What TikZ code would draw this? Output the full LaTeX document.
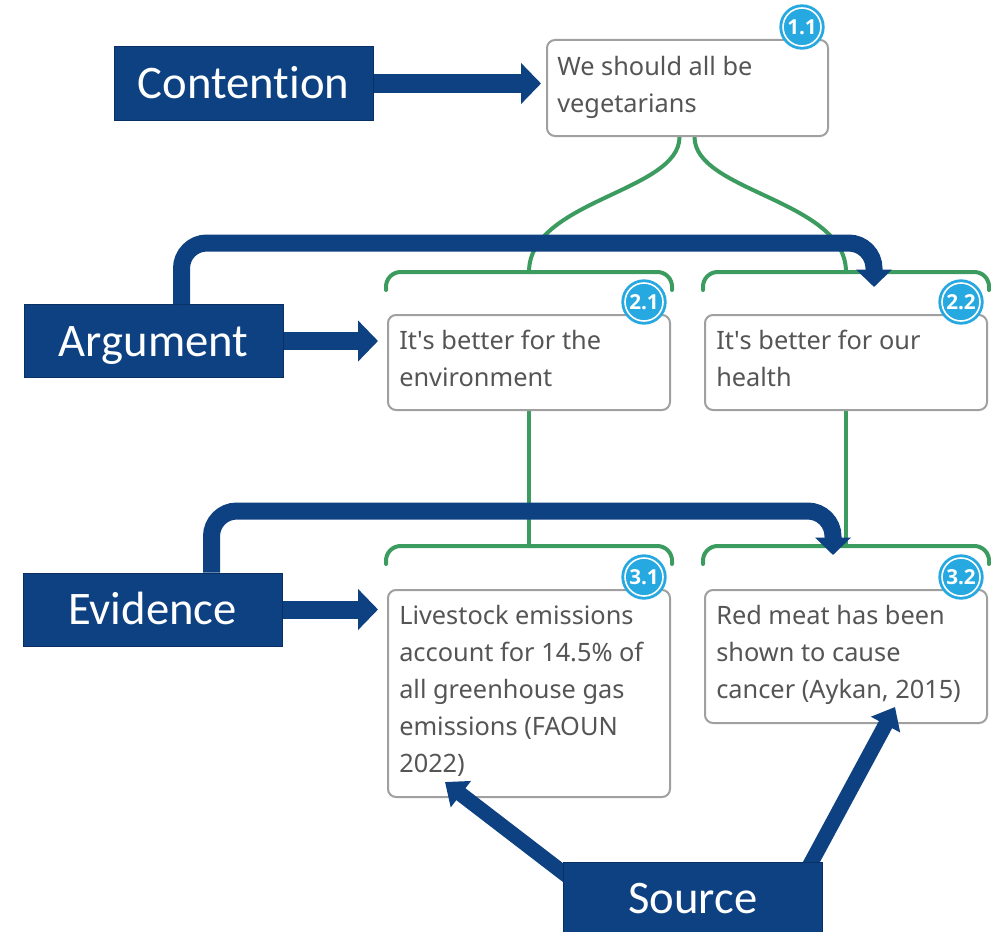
\documentclass[tikz,border=0pt]{standalone}
\usepackage{fontspec}
\setmainfont{Noto Sans}
\newfontfamily\labelfont{Carlito}[Ligatures={NoCommon}]
\newfontfamily\badgefont{Open Sans}
\usetikzlibrary{arrows.meta,calc}
\definecolor{navy}{RGB}{13,65,130}
\definecolor{navyedge}{RGB}{9,48,100}
\definecolor{argreen}{RGB}{60,155,95}
\definecolor{boxgray}{RGB}{160,160,160}
\definecolor{txtgray}{RGB}{85,85,85}
\definecolor{badgeblue}{RGB}{38,168,224}
\pgfdeclarelayer{bg}
\pgfdeclarelayer{back}
\pgfdeclarelayer{front}
\pgfsetlayers{bg,back,main,front}
\tikzset{
 mapbox/.style={draw=boxgray, line width=1.5pt, rounded corners=6pt, fill=white, inner sep=0pt, anchor=north west},
 boxtext/.style={anchor=base west, inner sep=0pt, text=txtgray, font=\fontsize{19pt}{27.75pt}\selectfont},
 roletag/.style={fill=navy, draw=navyedge, line width=0.75pt, text=white, font=\labelfont\fontsize{35pt}{40pt}\selectfont, minimum width=194.25pt, minimum height=54.75pt, text height=22.5pt, text depth=0pt, inner sep=0pt},
 blockarrow/.style={navy, line width=13.5pt, -{Triangle[width=30pt,length=15pt]}},
 bentarrow/.style={navy, line width=12.75pt, rounded corners=19pt, -{Triangle[width=26pt,length=13pt]}},
 srcarrow/.style={navy, line width=11.25pt, -{Triangle[width=24pt,length=15pt]}},
 branch/.style={argreen, line width=3pt, line cap=round},
 bracket/.style={argreen, line width=3pt, line cap=round, rounded corners=11pt},
 badge/.style={circle, fill=badgeblue, draw=white, line width=1.2pt, preaction={draw=badgeblue, line width=5.5pt}, text=white, font=\badgefont\bfseries\fontsize{15.5pt}{16pt}\selectfont, minimum size=28.5pt, inner sep=0pt},
}
\begin{document}
\begin{tikzpicture}[x=0.75pt,y=-0.75pt]
\begin{pgfonlayer}{bg}
\fill[white] (0,0) rectangle (991,931);
\end{pgfonlayer}
\useasboundingbox (0,0) rectangle (991,931);

% boxes
\node[mapbox, minimum width=210.75pt, minimum height=72pt] (b11) at (546,39) {};
\node[mapbox, minimum width=211.5pt, minimum height=71.25pt] (b21) at (387,314) {};
\node[mapbox, minimum width=211.5pt, minimum height=71.25pt] (b22) at (704,314) {};
\node[mapbox, minimum width=211.5pt, minimum height=155.25pt] (b31) at (387,589) {};
\node[mapbox, minimum width=211.5pt, minimum height=99.75pt] (b32) at (704,589) {};

% texts
\node[boxtext] (t11) at ($(b11.north west)+(11,36)$) {\begin{tabular}[t]{@{}l@{}}We should all be\\vegetarians\end{tabular}};
\node[boxtext] (t21) at ($(b21.north west)+(12,35)$) {\begin{tabular}[t]{@{}l@{}}It\textquotesingle s better for the\\environment\end{tabular}};
\node[boxtext] (t22) at ($(b22.north west)+(12,35)$) {\begin{tabular}[t]{@{}l@{}}It\textquotesingle s better for our\\health\end{tabular}};
\node[boxtext] (t31) at ($(b31.north west)+(12,35)$) {\begin{tabular}[t]{@{}l@{}}Livestock emissions\\account for 14.5\% of\\all greenhouse gas\\emissions (FAOUN\\2022)\end{tabular}};
\node[boxtext] (t32) at ($(b32.north west)+(12,35)$) {\begin{tabular}[t]{@{}l@{}}Red meat has been\\shown to cause\\cancer (Aykan, 2015)\end{tabular}};

% badges
\node[badge] (n11) at ($(b11.north east)+(-27,-12)$) {1.1};
\node[badge] (n21) at ($(b21.north east)+(-27,-12)$) {2.1};
\node[badge] (n22) at ($(b22.north east)+(-27,-12)$) {2.2};
\node[badge] (n31) at ($(b31.north east)+(-27,-12)$) {3.1};
\node[badge] (n32) at ($(b32.north east)+(-27,-12)$) {3.2};

% role tags
\node[roletag] (cont) at (243.5,83.5) {Contention};
\node[roletag] (arg) at (153.5,341) {Argument};
\node[roletag] (evi) at (152.5,609.5) {Evidence};
\begin{pgfonlayer}{front}
\node[roletag] (src) at (693,898.5) {Source};
\end{pgfonlayer}

% green map connectors
\begin{pgfonlayer}{back}
\draw[branch] ($(b11.south)+(-8,0)$) .. controls ($(b11.south)+(-8,55)$) and ($(b21.north)+(0,-114)$) .. ($(b21.north)+(0,-42)$);
\draw[branch] ($(b11.south)+(7,0)$) .. controls ($(b11.south)+(7,55)$) and ($(b22.north)+(0,-114)$) .. ($(b22.north)+(0,-42)$);
\draw[bracket] ($(b21.north west)+(-1,-24)$) |- ($(b21.north east)+(1,-42)$) -- ($(b21.north east)+(1,-24)$);
\draw[bracket] ($(b22.north west)+(-1,-24)$) |- ($(b22.north east)+(1,-42)$) -- ($(b22.north east)+(1,-24)$);
\draw[branch] (b21.south) -- ($(b31.north)+(0,-43)$);
\draw[branch] (b22.south) -- ($(b32.north)+(0,-43)$);
\draw[bracket] ($(b31.north west)+(-1,-25)$) |- ($(b31.north east)+(1,-43)$) -- ($(b31.north east)+(1,-25)$);
\draw[bracket] ($(b32.north west)+(-1,-25)$) |- ($(b32.north east)+(1,-43)$) -- ($(b32.north east)+(1,-25)$);
\end{pgfonlayer}

% source arrows (over the boxes, under the Source tag)
\draw[srcarrow] ($(src.north west)+(22,28)$) -- ($(b31.south west)+(58,-16)$);
\draw[srcarrow] ($(src.north west)+(239,18)$) -- ($(b32.south west)+(191,-17)$);

% block arrows
\draw[blockarrow, shorten >=3.75pt] (cont.east) -- (cont.east -| b11.west);
\draw[blockarrow, shorten >=6.75pt] (arg.east) -- (arg.east -| b21.west);
\draw[blockarrow, shorten >=6.75pt] (evi.east) -- (evi.east -| b31.west);

% bent arrows
\draw[bentarrow] ($(arg.north west)+(158,0)$) |- ($(b22.north)+(28,-71)$) -- ($(b22.north)+(28,-27)$);
\draw[bentarrow] ($(evi.north west)+(189,0)$) |- ($(b32.north)+(-13,-78)$) -- ($(b32.north)+(-13,-34)$);
\end{tikzpicture}
\end{document}
